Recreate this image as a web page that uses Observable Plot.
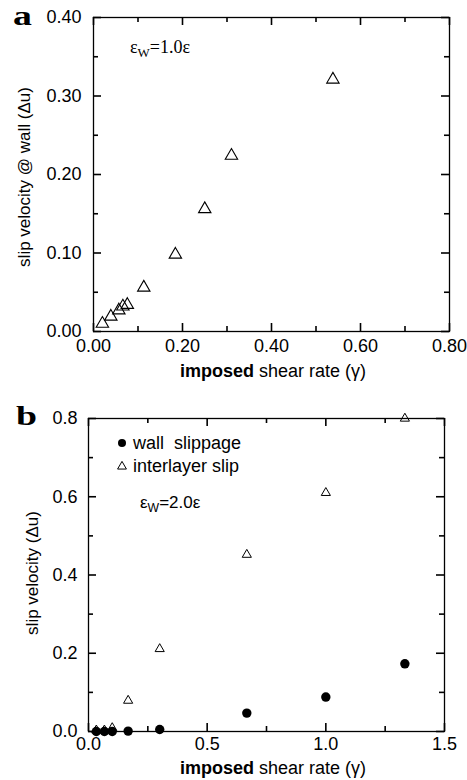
<!DOCTYPE html>
<html><head><meta charset="utf-8">
<script src="https://cdn.jsdelivr.net/npm/d3@7"></script>
<script src="https://cdn.jsdelivr.net/npm/@observablehq/plot@0.6"></script>
<style>
body{margin:0;background:#fff;}
#wrap{position:relative;width:467px;height:780px;overflow:hidden;background:#fff;}
.panel{position:absolute;left:0;}
#overlay{position:absolute;left:0;top:0;pointer-events:none;}
</style></head><body><div id="wrap"></div>
<script>
// ---- Panel a data (εw = 1.0ε) ----
const shearA = [0.020, 0.039, 0.057, 0.066, 0.076, 0.113, 0.184, 0.250, 0.310, 0.538];
const slipA  = [0.010, 0.019, 0.027, 0.032, 0.034, 0.056, 0.098, 0.156, 0.224, 0.321];
// ---- Panel b data (εw = 2.0ε) ----
const shearB = [0.033, 0.067, 0.100, 0.167, 0.300, 0.667, 1.000, 1.333];
const wallB  = [0.000, 0.000, 0.000, 0.001, 0.005, 0.047, 0.088, 0.173];
const interB = [0.003, 0.003, 0.009, 0.079, 0.211, 0.452, 0.610, 0.800];
// ---- ticks ----
const xMajorA = [0, 0.2, 0.4, 0.6, 0.8];
const xMinorA = [0.1, 0.3, 0.5, 0.7];
const yMajorA = [0, 0.1, 0.2, 0.3, 0.4];
const yMinorA = [0.05, 0.15, 0.25, 0.35];
const xMajorB = [0, 0.5, 1.0, 1.5];
const xMinorB = [0.25, 0.75, 1.25];
const yMajorB = [0, 0.2, 0.4, 0.6, 0.8];
const yMinorB = [0.1, 0.3, 0.5, 0.7];
const seriesB = ["wall  slippage", "interlayer slip"];
const xLabel = ["imposed", " shear rate (γ)"];
const yLabelA = "slip velocity @ wall (Δu)";
const yLabelB = "slip velocity (Δu)";

const dataA = shearA.map((x, i) => ({x, y: slipA[i]}));
const dataWall = shearB.map((x, i) => ({x, y: wallB[i]}));
const dataInter = shearB.map((x, i) => ({x, y: interB[i]}));

const SANS = "'Liberation Sans', Arial, Helvetica, sans-serif";
const SERIF = "'Liberation Serif', 'Times New Roman', serif";
const W = 467, H = 390;
const MAJ = 8, MIN = 5;

function panel(o) {
  const pw = W - o.ml - o.mr, ph = H - o.mt - o.mb;
  const st = {stroke: "black", strokeWidth: 1.6};
  return Plot.plot({
    width: W, height: H,
    marginLeft: o.ml, marginRight: o.mr, marginTop: o.mt, marginBottom: o.mb,
    x: {domain: o.xDomain}, y: {domain: o.yDomain},
    style: {fontFamily: SANS, fontSize: "18px"},
    marks: [
      Plot.frame({stroke: "black", strokeWidth: 1.3}),
      // inward ticks: bottom, top, left, right (major and minor)
      Plot.tickX(o.xMajor, {x: d => d, insetTop: ph - MAJ, ...st}),
      Plot.tickX(o.xMinor, {x: d => d, insetTop: ph - MIN, ...st}),
      Plot.tickX(o.xMajor, {x: d => d, insetBottom: ph - MAJ, ...st}),
      Plot.tickX(o.xMinor, {x: d => d, insetBottom: ph - MIN, ...st}),
      Plot.tickY(o.yMajor, {y: d => d, insetRight: pw - MAJ, ...st}),
      Plot.tickY(o.yMinor, {y: d => d, insetRight: pw - MIN, ...st}),
      Plot.tickY(o.yMajor, {y: d => d, insetLeft: pw - MAJ, ...st}),
      Plot.tickY(o.yMinor, {y: d => d, insetLeft: pw - MIN, ...st}),
      Plot.axisX({anchor: "bottom", ticks: o.xMajor, tickSize: 0, tickPadding: o.xPad, tickFormat: o.xFmt, label: null, fill: "black"}),
      Plot.axisY({anchor: "left", ticks: o.yMajor, tickSize: 0, tickPadding: o.yPad, tickFormat: o.yFmt, label: null, fill: "black"}),
      ...o.marks
    ]
  });
}

const wrap = document.getElementById("wrap");

const pa = panel({
  xDomain: [0, 0.8], yDomain: [0, 0.4],
  xMajor: xMajorA, xMinor: xMinorA, yMajor: yMajorA, yMinor: yMinorA,
  xFmt: d3.format(".2f"), yFmt: d3.format(".2f"),
  ml: 93, mr: 18, mt: 17, mb: 59, xPad: 8, yPad: 12,
  marks: [
    Plot.dot(dataA, {x: "x", y: "y", symbol: "triangle", r: 4.6, stroke: "black", fill: "none", strokeWidth: 1.1})
  ]
});
pa.classList.add("panel"); pa.style.top = "0px";
wrap.appendChild(pa);

const pb = panel({
  xDomain: [0, 1.5], yDomain: [0, 0.8],
  xMajor: xMajorB, xMinor: xMinorB, yMajor: yMajorB, yMinor: yMinorB,
  xFmt: d3.format(".1f"), yFmt: d3.format(".1f"),
  ml: 88, mr: 23, mt: 28, mb: 49, xPad: 6, yPad: 11,
  marks: [
    Plot.dot(dataWall, {x: "x", y: "y", symbol: "circle", r: 4.7, fill: "black", stroke: "none"}),
    Plot.dot(dataInter, {x: "x", y: "y", symbol: "triangle", r: 3.4, stroke: "black", fill: "none", strokeWidth: 1})
  ]
});
pb.classList.add("panel"); pb.style.top = "390px";
wrap.appendChild(pb);

// ---- overlay text (panel letters, axis titles, annotations, legend) ----
const svg = d3.select(wrap).append("svg").attr("id", "overlay").attr("width", W).attr("height", 780);

function letter(t, x, y) {
  svg.append("text").attr("transform", `translate(${x},${y}) scale(1.4,1)`)
    .attr("font-family", SERIF).attr("font-weight", "bold").attr("font-size", 27).text(t);
}
letter("a", 13, 25);
letter("b", 16, 425);

function xTitle(y) {
  const t = svg.append("text").attr("x", 273).attr("y", y).attr("text-anchor", "middle")
    .attr("font-family", SANS).attr("font-size", 18);
  t.append("tspan").attr("font-weight", "bold").text(xLabel[0]);
  t.append("tspan").text(xLabel[1]);
}
xTitle(377);
xTitle(774);

function yTitle(txt, x, y) {
  svg.append("text").attr("transform", `translate(${x},${y}) rotate(-90)`).attr("text-anchor", "middle")
    .attr("font-family", SANS).attr("font-size", 17).text(txt);
}
yTitle(yLabelA, 30, 177);
yTitle(yLabelB, 38, 573);

function eps(x, y, val, fam, fs) {
  const t = svg.append("text").attr("x", x).attr("y", y).attr("font-family", fam).attr("font-size", fs);
  t.append("tspan").text("ε");
  t.append("tspan").attr("dy", 4).attr("font-size", fs * 0.72).text("W");
  t.append("tspan").attr("dy", -4).text("=" + val + "ε");
}
eps(130, 53, "1.0", SERIF, 18);
eps(140, 508, "2.0", SANS, 17);

// legend
svg.append("circle").attr("cx", 122).attr("cy", 443).attr("r", 4).attr("fill", "black");
svg.append("path").attr("transform", "translate(122,466.5)")
  .attr("d", d3.symbol(d3.symbolTriangle, 34)()).attr("fill", "none").attr("stroke", "black");
svg.append("text").attr("x", 133).attr("y", 448.5).attr("font-family", SANS).attr("font-size", 18)
  .style("white-space", "pre").text(seriesB[0]);
svg.append("text").attr("x", 133).attr("y", 471.5).attr("font-family", SANS).attr("font-size", 18).text(seriesB[1]);
</script></body></html>
